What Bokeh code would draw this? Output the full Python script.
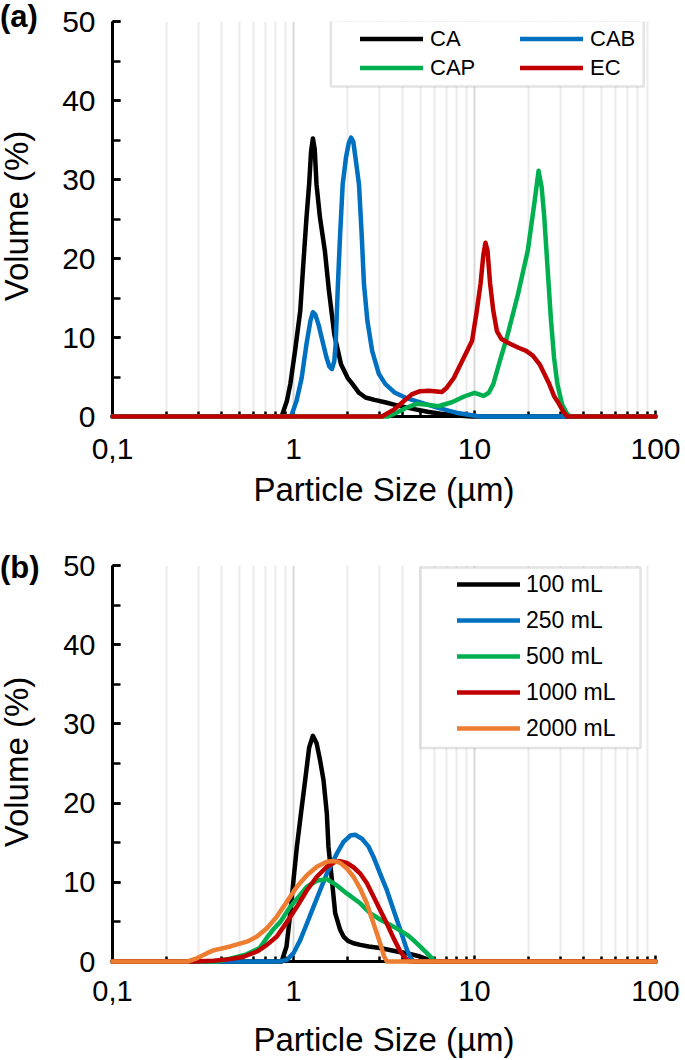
from bokeh.plotting import figure
from bokeh.models import (Range1d, FixedTicker, SingleIntervalTicker, CustomJSTickFormatter,
                          Legend, LegendItem, BoxAnnotation, Div)
from bokeh.layouts import column
from bokeh.embed import file_html
from bokeh.resources import INLINE

# ---------------- data: panel (a) ----------------
CA_X = [0.1, 0.86, 0.92, 0.96, 1.02, 1.09, 1.13, 1.18, 1.22, 1.25, 1.28, 1.31, 1.34, 1.40, 1.49, 1.57,
        1.68, 1.83, 1.99, 2.12, 2.3, 2.5, 2.8, 3.2, 3.6, 4.5, 5.5, 6.5, 8.0, 9.7, 100]
CA_Y = [0, 0, 2.0, 4.1, 8.3, 13.4, 18.9, 25.2, 29.4, 33.5, 35.2, 33.8, 29.4, 25.2, 21.0, 15.9,
        10.4, 6.6, 4.9, 4.1, 3.0, 2.4, 2.1, 1.8, 1.5, 1.0, 0.6, 0.35, 0.12, 0, 0]

CAB_X = [0.1, 0.97, 1.04, 1.11, 1.18, 1.24, 1.28, 1.32, 1.38, 1.43, 1.52, 1.58, 1.63, 1.68, 1.71, 1.76,
         1.81, 1.87, 1.95, 2.02, 2.08, 2.14, 2.21, 2.30, 2.38, 2.45, 2.56, 2.72, 2.96, 3.22, 3.64,
         4.14, 5.0, 6.3, 8.2, 10.7, 100]
CAB_Y = [0, 0, 2.0, 4.9, 9.2, 12.1, 13.2, 12.9, 11.5, 10.0, 7.5, 6.3, 6.0, 7.0, 9.2, 16.8,
         23.1, 29.4, 32.8, 34.6, 35.3, 34.8, 32.4, 29.4, 23.1, 16.8, 12.1, 8.3, 5.4, 4.1, 3.0,
         2.4, 1.8, 1.1, 0.4, 0, 0]

CAP_X = [0.1, 3.34, 3.8, 4.3, 4.8, 5.5, 6.3, 7.5, 8.7, 10.0, 10.6, 11.2, 12.0, 12.7, 13.8, 15.1,
         17.4, 19.7, 21.5, 22.6, 23.5, 24.3, 25.3, 26.4, 27.5, 28.7, 30.5, 32.5, 34.0, 100]
CAP_Y = [0, 0, 0.6, 1.2, 1.6, 1.5, 1.3, 1.8, 2.5, 3.0, 2.8, 2.6, 3.0, 4.1, 7.0, 10.0,
         15.5, 21.0, 27.3, 31.1, 29.0, 25.2, 19.0, 12.5, 7.5, 4.1, 1.5, 0.3, 0, 0]

EC_X = [0.1, 3.08, 3.6, 4.0, 4.5, 5.0, 5.6, 6.0, 6.6, 7.0, 7.7, 8.75, 9.7, 10.3, 10.8, 11.2, 11.5,
        11.8, 12.2, 12.7, 13.3, 14.1, 15.7, 17.5, 19.3, 21.0, 22.9, 24.3, 25.9, 27.5, 29.3, 30.8,
        32.5, 100]
EC_Y = [0, 0, 0.9, 1.8, 2.8, 3.2, 3.25, 3.2, 3.1, 3.6, 4.9, 7.5, 9.6, 13.4, 16.8, 20.5, 22.0,
        21.0, 16.8, 13.4, 10.8, 9.8, 9.2, 8.7, 8.3, 7.7, 6.6, 5.4, 4.1, 2.6, 1.6, 0.7,
        0, 0]

# ---------------- data: panel (b) ----------------
ML100_X = [0.1, 0.86, 0.915, 0.96, 1.0, 1.044, 1.10, 1.16, 1.22, 1.28, 1.34, 1.40, 1.465, 1.528,
           1.56, 1.63, 1.70, 1.81, 1.89, 2.0, 2.145, 2.34, 2.6, 3.01, 3.4, 3.73, 4.23, 5.0, 5.46,
           6.2, 100]
ML100_Y = [0, 0, 1.9, 6.1, 10.3, 14.5, 18.7, 22.9, 27.0, 28.5, 27.6, 25.5, 22.9, 18.7,
           14.5, 10.3, 6.1, 4.0, 3.15, 2.6, 2.3, 2.1, 1.9, 1.7, 1.45, 1.26, 1.05, 0.63, 0.3,
           0, 0]

ML250_X = [0.1, 0.83, 0.92, 1.0, 1.089, 1.186, 1.289, 1.403, 1.528, 1.737, 1.889, 2.06, 2.19,
           2.39, 2.6, 2.767, 3.01, 3.28, 3.57, 3.89, 4.23, 4.41, 4.6, 100]
ML250_Y = [0, 0, 0.2, 1.05, 2.7, 4.8, 6.9, 9.0, 11.1, 13.65, 15.1, 15.9, 16.0,
           15.5, 14.5, 13.2, 11.1, 9.0, 6.5, 4.0, 1.5, 0.6, 0, 0]

ML500_X = [0.1, 0.38, 0.45, 0.55, 0.65, 0.713, 0.77, 0.845, 0.959, 1.089, 1.186, 1.345, 1.528,
           1.737, 1.97, 2.336, 2.65, 3.01, 3.57, 4.23, 4.6, 5.0, 5.46, 5.93, 6.19, 100]
ML500_Y = [0, 0, 0.4, 0.9, 1.7, 3.0, 4.0, 5.0, 6.9, 8.4, 9.45, 10.2, 10.4,
           9.6, 8.6, 7.35, 6.1, 5.3, 4.4, 3.4, 2.7, 1.9, 1.05, 0.2, 0, 0]

ML1000_X = [0.1, 0.28, 0.361, 0.447, 0.53, 0.628, 0.713, 0.809, 0.92, 1.044, 1.186, 1.345, 1.528,
            1.70, 1.811, 1.97, 2.145, 2.336, 2.54, 2.767, 3.01, 3.28, 3.57, 3.89, 4.23, 4.41, 100]
ML1000_Y = [0, 0, 0.1, 0.3, 0.6, 1.26, 2.1, 3.15, 5.0, 6.9, 9.0, 10.7, 11.96,
            12.6, 12.65, 12.45, 11.9, 11.1, 9.9, 8.2, 6.5, 4.8, 2.95, 1.26, 0.2, 0, 0]

ML2000_X = [0.1, 0.26, 0.292, 0.333, 0.361, 0.447, 0.553, 0.628, 0.713, 0.809, 0.92, 1.044, 1.186,
            1.345, 1.528, 1.663, 1.811, 1.97, 2.145, 2.336, 2.54, 2.767, 3.01, 3.17, 3.28, 100]
ML2000_Y = [0, 0, 0.4, 1.05, 1.4, 1.9, 2.5, 3.15, 4.2, 5.67, 7.56, 9.45, 10.9,
            11.96, 12.6, 12.7, 12.45, 11.75, 10.7, 9.2, 7.35, 4.8, 2.3, 0.63, 0, 0]

# ---------------- labels / ticks ----------------
SERIES_A = ["CA", "CAB", "CAP", "EC"]
SERIES_B = ["100 mL", "250 mL", "500 mL", "1000 mL", "2000 mL"]
PANEL_TAGS = ["(a)", "(b)"]
X_TICKS = [0.1, 1, 10, 100]
X_MINOR = [m * 10.0 ** e for e in (-1, 0, 1) for m in range(2, 10)]
Y_MAX = 50
X_TITLE = "Particle Size (µm)"
Y_TITLE = "Volume (%)"

# ---------------- styles ----------------
FONT = "Liberation Sans"
COL_BLACK, COL_BLUE, COL_GREEN, COL_RED, COL_ORANGE = "#000000", "#0070C0", "#00B050", "#C00000", "#ED7D31"
LINE_W = 4.5
FIG_W, FIG_H = 685, 530


def make_panel(b_left, b_right, b_top, b_bottom, tick_fs, title_fs,
               x_std, x_title_std, y_std):
    p = figure(width=FIG_W, height=FIG_H, x_axis_type="log",
               x_range=Range1d(0.1, 100), y_range=Range1d(0, Y_MAX),
               output_backend="svg", toolbar_location=None,
               min_border_left=b_left, min_border_right=b_right,
               min_border_top=b_top, min_border_bottom=b_bottom)
    p.outline_line_color = None
    p.background_fill_color = "white"
    p.border_fill_color = "white"
    xt = FixedTicker(ticks=X_TICKS, minor_ticks=X_MINOR)
    p.xaxis.ticker = xt
    p.xgrid.ticker = xt
    p.xaxis.formatter = CustomJSTickFormatter(
        code="return tick < 1 ? String(tick).replace('.', ',') : String(Math.round(tick));")
    p.yaxis.ticker = SingleIntervalTicker(interval=10, num_minor_ticks=2)
    for ax in (p.xaxis[0], p.yaxis[0]):
        ax.axis_line_width = 3
        ax.axis_line_color = "black"
        ax.major_tick_line_width = 2.5
        ax.minor_tick_line_width = 2.5
        ax.major_tick_out = 0
        ax.minor_tick_out = 0
        ax.major_label_text_font = FONT
        ax.major_label_text_font_size = f"{tick_fs}px"
        ax.major_label_text_color = "black"
        ax.axis_label_text_font = FONT
        ax.axis_label_text_font_size = f"{title_fs}px"
        ax.axis_label_text_font_style = "normal"
        ax.axis_label_text_color = "black"
    p.xaxis.major_tick_in = 6
    p.xaxis.minor_tick_in = 5
    p.yaxis.major_tick_in = 8
    p.yaxis.minor_tick_in = 8
    p.xaxis.major_label_standoff = x_std
    p.xaxis.axis_label_standoff = x_title_std
    p.yaxis.major_label_standoff = y_std
    p.xaxis.axis_label = X_TITLE
    p.ygrid.grid_line_color = None
    p.xgrid.grid_line_color = "#d9d9d9"
    p.xgrid.grid_line_width = 2
    p.xgrid.minor_grid_line_color = "#ebebeb"
    p.xgrid.minor_grid_line_width = 2
    return p


def px_to_x(px, left, width):
    return 10 ** (-1 + 3.0 * (px - left) / width)


def px_to_y(py, top, height):
    return Y_MAX - (py - top) / height * Y_MAX


def add_lines(p, series):
    rs = []
    for xs, ys, c in series:
        rs.append(p.line(xs, ys, line_color=c, line_width=LINE_W, line_join="round",
                         line_cap="round", level="annotation"))
    return rs


def tag_div(text, top_px):
    html = (f'<span style="font-family:\'{FONT}\',Arial,sans-serif;font-size:31px;'
            f'font-weight:bold;color:#000;line-height:32px;white-space:nowrap;">{text}</span>')
    return Div(text=html, width=52, height=32,
               styles={"position": "absolute", "left": "0px", "top": f"{top_px}px",
                       "margin": "0px", "padding": "0px", "z-index": "10"})


def ytitle_div(text, cx, cy, fs=33, box_w=220, box_h=32):
    html = (f'<div style="width:{box_w}px;height:{box_h}px;text-align:center;'
            f'font-family:\'{FONT}\',Arial,sans-serif;font-size:{fs}px;color:#000;'
            f'line-height:{box_h}px;white-space:nowrap;">{text}</div>')
    return Div(text=html, width=box_w, height=box_h,
               styles={"position": "absolute", "left": f"{cx - box_w / 2:.1f}px",
                       "top": f"{cy - box_h / 2:.1f}px", "margin": "0px", "padding": "0px",
                       "transform": "rotate(-90deg)", "transform-origin": "50% 50%",
                       "z-index": "10"})


# ---------------- panel (a) ----------------
A_LEFT, A_TOP, A_W, A_H = 106, 21, 552, 395          # frame in canvas px
pa = make_panel(A_LEFT, FIG_W - A_LEFT - A_W, A_TOP, FIG_H - A_TOP - A_H, 30, 33, 22, 9, 17)
ra = add_lines(pa, [(CA_X, CA_Y, COL_BLACK), (CAB_X, CAB_Y, COL_BLUE),
                    (CAP_X, CAP_Y, COL_GREEN), (EC_X, EC_Y, COL_RED)])

box_a = BoxAnnotation(left=px_to_x(328, A_LEFT, A_W), right=px_to_x(646, A_LEFT, A_W),
                      top=px_to_y(20, A_TOP, A_H), bottom=px_to_y(86, A_TOP, A_H),
                      fill_color="white", fill_alpha=1, line_color="#a3a3a3", line_width=2.5)
pa.add_layout(box_a)
leg_a = Legend(items=[LegendItem(label=n, renderers=[r]) for n, r in zip(SERIES_A, ra)],
               location=(248, 334), orientation="horizontal", ncols=2,
               padding=0, margin=0, spacing=0, label_standoff=7, label_width=90,
               glyph_width=63, glyph_height=29, label_height=29,
               border_line_color=None, background_fill_alpha=0,
               label_text_font=FONT, label_text_font_size="22px", label_text_color="black")
pa.add_layout(leg_a, "center")

# ---------------- panel (b) ----------------
B_LEFT, B_TOP, B_W, B_H = 112, 35, 543, 397
pb = make_panel(B_LEFT, FIG_W - B_LEFT - B_W, B_TOP, FIG_H - B_TOP - B_H, 29, 33, 19, 17, 17)
rb = add_lines(pb, [(ML100_X, ML100_Y, COL_BLACK), (ML250_X, ML250_Y, COL_BLUE),
                    (ML500_X, ML500_Y, COL_GREEN), (ML1000_X, ML1000_Y, COL_RED),
                    (ML2000_X, ML2000_Y, COL_ORANGE)])

box_b = BoxAnnotation(left=px_to_x(420, B_LEFT, B_W), right=px_to_x(640, B_LEFT, B_W),
                      top=px_to_y(37, B_TOP, B_H), bottom=px_to_y(218, B_TOP, B_H),
                      fill_color="white", fill_alpha=1, line_color="#a3a3a3", line_width=2.5)
pb.add_layout(box_b)
leg_b = Legend(items=[LegendItem(label=n, renderers=[r]) for n, r in zip(SERIES_B, rb)],
               location=(345, 215), orientation="vertical",
               padding=0, margin=0, spacing=0, label_standoff=6, label_width=90,
               glyph_width=63, glyph_height=36, label_height=36,
               border_line_color=None, background_fill_alpha=0,
               label_text_font=FONT, label_text_font_size="23px", label_text_color="black")
pb.add_layout(leg_b, "center")

texts = [tag_div(PANEL_TAGS[0], 1), tag_div(PANEL_TAGS[1], FIG_H + 22),
         ytitle_div(Y_TITLE, 17, 216), ytitle_div(Y_TITLE, 17, FIG_H + 232)]
layout = column(pa, pb, *texts, spacing=0)
open("out.html", "w").write(file_html(layout, INLINE))
